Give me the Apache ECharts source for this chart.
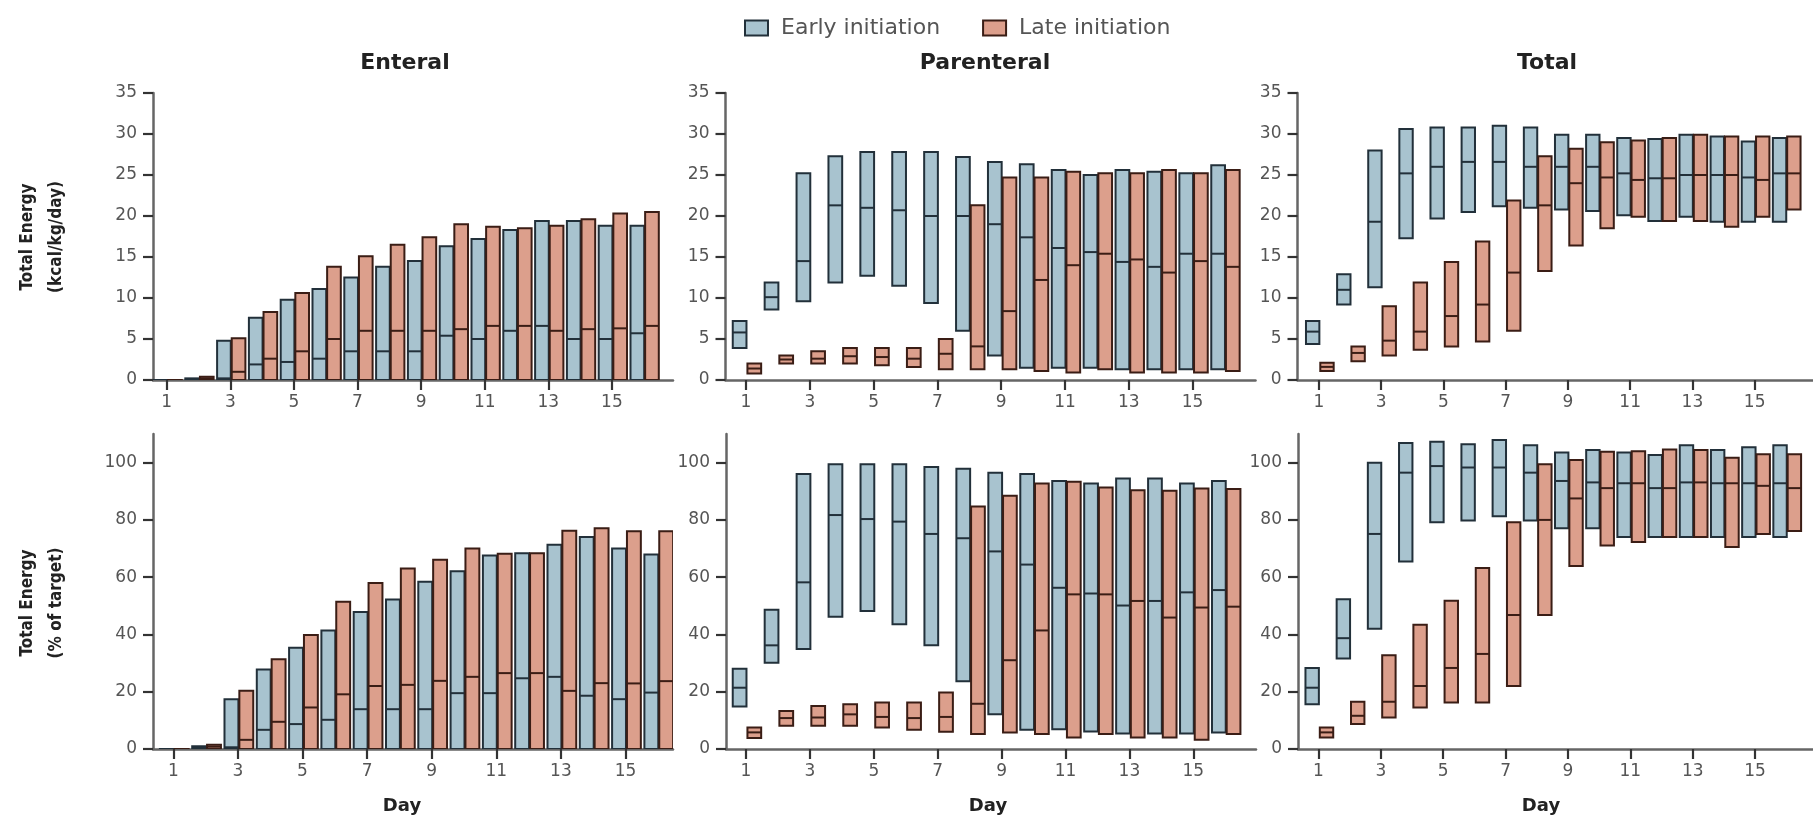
<!DOCTYPE html>
<html>
<head>
<meta charset="utf-8">
<script src="https://cdn.jsdelivr.net/npm/echarts@6/dist/echarts.min.js"></script>
<style>html,body{margin:0;padding:0;background:#fff}#c{width:1813px;height:819px}</style>
</head>
<body>
<div id="c"></div>
<script>
// ---- data ----
const days = [1,2,3,4,5,6,7,8,9,10,11,12,13,14,15,16];
const xTickLabels = [1,3,5,7,9,11,13,15];
const kcalTicks = [0,5,10,15,20,25,30,35];
const pctTicks = [0,20,40,60,80,100];
const seriesNames = ['Early initiation','Late initiation'];
const panelTitles = ['Enteral','Parenteral','Total'];

// Enteral, kcal/kg/day (Q1 = 0)
const entKcalEarlyMed = [0,0.1,0.2,1.9,2.2,2.6,3.5,3.5,3.5,5.4,5.0,6.0,6.6,5.0,5.0,5.7];
const entKcalEarlyQ3  = [0,0.2,4.8,7.6,9.8,11.1,12.5,13.8,14.5,16.3,17.2,18.3,19.4,19.4,18.8,18.8];
const entKcalLateMed  = [0,0.2,1.0,2.6,3.5,5.0,6.0,6.0,6.0,6.2,6.6,6.6,6.0,6.2,6.3,6.6];
const entKcalLateQ3   = [0,0.4,5.1,8.3,10.6,13.8,15.1,16.5,17.4,19.0,18.7,18.5,18.8,19.6,20.3,20.5];

// Parenteral, kcal/kg/day [Q1, median, Q3]
const parKcalEarly = [[3.9,5.8,7.2],[8.6,10.1,11.9],[9.6,14.5,25.2],[11.9,21.3,27.3],[12.7,21.0,27.8],[11.5,20.7,27.8],[9.4,20.0,27.8],[6.0,20.0,27.2],[3.0,19.0,26.6],[1.5,17.4,26.3],[1.5,16.1,25.6],[1.5,15.6,25.0],[1.3,14.4,25.6],[1.3,13.8,25.4],[1.3,15.4,25.2],[1.3,15.4,26.2]];
const parKcalLate  = [[0.8,1.4,2.0],[2.0,2.5,3.0],[2.0,2.6,3.5],[2.0,2.9,3.9],[1.8,2.8,3.9],[1.6,2.6,3.9],[1.3,3.2,5.0],[1.3,4.1,21.3],[1.3,8.4,24.7],[1.1,12.2,24.7],[0.9,14.0,25.4],[1.3,15.4,25.2],[0.9,14.7,25.2],[0.9,13.1,25.6],[0.9,14.5,25.2],[1.1,13.8,25.6]];

// Total, kcal/kg/day
const totKcalEarly = [[4.4,5.9,7.2],[9.2,11.0,12.9],[11.3,19.3,28.0],[17.3,25.2,30.6],[19.7,26.0,30.8],[20.5,26.6,30.8],[21.2,26.6,31.0],[21.0,26.0,30.8],[20.8,26.0,29.9],[20.6,26.0,29.9],[20.1,25.2,29.5],[19.4,24.6,29.4],[19.9,25.0,29.9],[19.3,25.0,29.7],[19.3,24.7,29.1],[19.3,25.2,29.5]];
const totKcalLate  = [[1.1,1.6,2.1],[2.3,3.3,4.1],[3.0,4.8,9.0],[3.7,5.9,11.9],[4.1,7.8,14.4],[4.7,9.2,16.9],[6.0,13.1,21.9],[13.3,21.3,27.3],[16.4,24.0,28.2],[18.5,24.7,29.0],[19.9,24.4,29.2],[19.4,24.6,29.5],[19.4,25.0,29.9],[18.7,25.0,29.7],[19.9,24.4,29.7],[20.8,25.2,29.7]];

// Enteral, % of target (Q1 = 0)
const entPctEarlyMed = [0,0.5,0.6,6.7,8.7,10.2,13.9,13.9,13.9,19.5,19.5,24.7,25.2,18.6,17.4,19.7];
const entPctEarlyQ3  = [0,1.0,17.4,27.8,35.4,41.4,47.8,52.2,58.4,62.1,67.6,68.4,71.3,74.0,70.0,67.9];
const entPctLateMed  = [0,0.8,3.2,9.5,14.5,19.1,22.0,22.4,23.8,25.2,26.5,26.5,20.3,23.0,22.9,23.7];
const entPctLateQ3   = [0,1.5,20.3,31.3,39.8,51.4,58.0,63.0,66.1,70.0,68.2,68.4,76.2,77.1,76.0,76.0];

// Parenteral, % of target
const parPctEarly = [[14.8,21.4,28.0],[30.1,36.2,48.6],[34.9,58.2,96.0],[46.2,81.7,99.4],[48.2,80.3,99.4],[43.6,79.4,99.4],[36.2,75.1,98.5],[23.7,73.6,97.9],[12.1,69.0,96.5],[6.7,64.4,96.0],[6.9,56.3,93.6],[6.1,54.3,92.7],[5.4,50.1,94.5],[5.4,51.7,94.5],[5.4,54.7,92.7],[5.8,55.5,93.6]];
const parPctLate  = [[3.8,5.8,7.5],[8.1,10.8,13.3],[8.1,11.0,15.0],[8.1,12.1,15.6],[7.5,11.2,16.2],[6.7,10.8,16.2],[6.0,11.2,19.7],[5.2,15.8,84.7],[5.8,31.0,88.4],[5.2,41.4,92.7],[4.0,54.0,93.3],[5.2,54.0,91.3],[4.0,51.7,90.4],[4.0,45.9,90.2],[3.2,49.4,91.0],[5.2,49.7,90.8]];

// Total, % of target
const totPctEarly = [[15.6,21.4,28.3],[31.6,38.7,52.3],[42.0,75.1,100.0],[65.5,96.5,106.9],[79.2,98.8,107.3],[79.8,98.3,106.4],[81.3,98.3,107.9],[79.8,96.5,106.1],[77.1,93.6,103.5],[77.1,93.1,104.4],[74.0,92.8,103.5],[74.0,91.1,102.7],[74.0,93.1,106.1],[74.0,92.8,104.4],[74.0,92.8,105.4],[74.0,92.8,106.1]];
const totPctLate  = [[4.0,5.8,7.5],[8.7,11.6,16.5],[11.0,16.5,32.7],[14.5,22.0,43.4],[16.2,28.3,51.8],[16.2,33.2,63.2],[22.0,46.8,79.2],[46.8,80.0,99.4],[63.9,87.5,100.9],[71.1,91.1,103.8],[72.3,92.8,104.0],[74.0,91.1,104.6],[74.0,93.1,104.4],[70.5,92.8,101.7],[75.1,91.9,102.9],[76.1,91.1,102.9]];

// ---- build ----
const FILL = ['#a8c3cf', '#dc9f8c'];
const STROKE = ['#22303a', '#3a1d15'];
const OFFSET = [-0.2, 0.26];
const BARW = 0.43;

function fromQ3(med, q3){ return days.map((d,i)=>[d, 0, med[i], q3[i]]); }
function fromTriples(arr){ return days.map((d,i)=>[d, arr[i][0], arr[i][1], arr[i][2]]); }

const panels = [
  [fromQ3(entKcalEarlyMed, entKcalEarlyQ3), fromQ3(entKcalLateMed, entKcalLateQ3)],
  [fromTriples(parKcalEarly), fromTriples(parKcalLate)],
  [fromTriples(totKcalEarly), fromTriples(totKcalLate)],
  [fromQ3(entPctEarlyMed, entPctEarlyQ3), fromQ3(entPctLateMed, entPctLateQ3)],
  [fromTriples(parPctEarly), fromTriples(parPctLate)],
  [fromTriples(totPctEarly), fromTriples(totPctLate)]
];

const grids = [
  {left:153, top:93, width:520, height:287},
  {left:725.5, top:93, width:530, height:287},
  {left:1297.5, top:93, width:530, height:287},
  {left:153, top:434, width:520, height:315},
  {left:726, top:434, width:530, height:315},
  {left:1298, top:434, width:530, height:315}
];
// pixel distance from the y axis to day 1, and pixels per day, per panel
const day1Offset = [13.7, 20.5, 22, 20.3, 20, 21];
const xSpacing   = [31.8, 31.9, 32.0, 32.3, 31.95, 32.1];

const LABEL = {fontFamily:'DejaVu Sans', fontSize:17, color:'#555'};
const AXLINE = {show:true, onZero:false, lineStyle:{color:'#666', width:2.5}};
const TICK = {show:true, length:10, lineStyle:{color:'#333', width:2.2}};

const xAxis = grids.map((g,i)=>{
  const mn = 1 - day1Offset[i] / xSpacing[i];
  return {
    type:'value', gridIndex:i, min:mn, max:mn + g.width / xSpacing[i],
    axisLine:AXLINE, splitLine:{show:false},
    axisTick:Object.assign({}, TICK, {customValues:xTickLabels}),
    axisLabel:Object.assign({}, LABEL, {customValues:xTickLabels, margin:14})
  };
});
const yAxis = grids.map((g,i)=>{
  const top = i < 3;
  const ticks = top ? kcalTicks : pctTicks;
  return {
    type:'value', gridIndex:i, min:0, max: top ? 35 : 110,
    axisLine:AXLINE, splitLine:{show:false},
    axisTick:Object.assign({}, TICK, {customValues:ticks}),
    axisLabel:Object.assign({}, LABEL, {customValues:ticks, margin:16})
  };
});

function makeRender(k){
  return function(params, api){
    const x = api.value(0), q1 = api.value(1), med = api.value(2), q3 = api.value(3);
    const a = api.coord([x + OFFSET[k] - BARW/2, q3]);
    const b = api.coord([x + OFFSET[k] + BARW/2, q1]);
    const m = api.coord([x, med]);
    return {type:'group', children:[
      {type:'rect', shape:{x:a[0], y:a[1], width:b[0]-a[0], height:Math.max(b[1]-a[1], 0.5)},
       style:{fill:FILL[k], stroke:STROKE[k], lineWidth:2}},
      {type:'line', shape:{x1:a[0], y1:m[1], x2:b[0], y2:m[1]}, style:{stroke:STROKE[k], lineWidth:2}}
    ]};
  };
}

const series = [];
panels.forEach((pair, i)=>{
  pair.forEach((data, k)=>{
    series.push({
      type:'custom', name:seriesNames[k], xAxisIndex:i, yAxisIndex:i,
      renderItem:makeRender(k), data:data, clip:true,
      encode:{x:0, y:[1,2,3]},
      itemStyle:{color:FILL[k], borderColor:STROKE[k], borderWidth:2}
    });
  });
});

const boldFont = (s)=>'bold ' + s + 'px "DejaVu Sans"';
const nameFont = 'bold 17px "Liberation Sans Narrow", "DejaVu Sans Condensed", "DejaVu Sans", sans-serif';
const graphic = [];
const titleX = [405, 985, 1547];
panelTitles.forEach((t,i)=>graphic.push({type:'text', x:titleX[i], y:63, style:{text:t, align:'center', verticalAlign:'middle', font:boldFont(22), fill:'#222'}}));
const dayX = [402, 988, 1541];
dayX.forEach(x=>graphic.push({type:'text', x:x, y:806, style:{text:'Day', align:'center', verticalAlign:'middle', font:boldFont(18), fill:'#222'}}));
[[237,'Total Energy','(kcal/kg/day)'],[603,'Total Energy','(% of target)']].forEach(r=>{
  graphic.push({type:'text', x:28, y:r[0], rotation:Math.PI/2, style:{text:r[1], align:'center', verticalAlign:'middle', font:nameFont, fill:'#222'}});
  graphic.push({type:'text', x:57, y:r[0], rotation:Math.PI/2, style:{text:r[2], align:'center', verticalAlign:'middle', font:nameFont, fill:'#222'}});
});

const chart = echarts.init(document.getElementById('c'), null, {renderer:'canvas'});
chart.setOption({
  animation:false,
  backgroundColor:'#fff',
  legend:{
    left:739, top:12, itemWidth:23, itemHeight:15, itemGap:42,
    data:seriesNames.map((n,k)=>({name:n, icon:'rect', itemStyle:{color:FILL[k], borderColor:STROKE[k], borderWidth:2}})),
    textStyle:{fontFamily:'DejaVu Sans', fontSize:22, color:'#555', padding:[0,0,0,8]}
  },
  grid:grids,
  xAxis:xAxis,
  yAxis:yAxis,
  series:series,
  graphic:graphic
});
</script>
</body>
</html>
